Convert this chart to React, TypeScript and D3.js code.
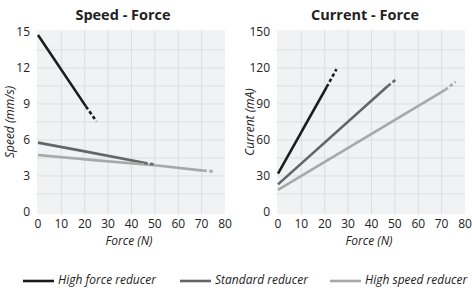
import * as d3 from "d3";

const forceTicks = [0, 10, 20, 30, 40, 50, 60, 70, 80];
const speedTicks = [0, 3, 6, 9, 12, 15];
const currentTicks = [0, 30, 60, 90, 120, 150];

const seriesNames = ["High force reducer", "Standard reducer", "High speed reducer"];
const seriesColors = ["#1c1c1c", "#656565", "#a8a8a8"];

// speed (mm/s) vs force (N): solid part, then dashed tail
const speedSolid: [number, number][][] = [
  [[0, 14.75], [20.5, 8.8]],
  [[0, 5.78], [20, 5.05], [45.4, 4.1]],
  [[0, 4.75], [25, 4.3], [50, 3.9], [70.7, 3.45]],
];
const speedTail: [number, number][][] = [
  [[20.5, 8.8], [25, 7.55]],
  [[45.4, 4.1], [50, 3.95]],
  [[70.7, 3.45], [75, 3.38]],
];

// current (mA) vs force (N)
const currentSolid: [number, number][][] = [
  [[0, 32], [20.8, 104]],
  [[0, 23], [47, 105]],
  [[0, 18.5], [71.5, 101.7]],
];
const currentTail: [number, number][][] = [
  [[20.8, 104], [25, 119]],
  [[47, 105], [50.5, 110.5]],
  [[71.5, 101.7], [76, 108.5]],
];

const FONT = "'Open Sans', 'Noto Sans', sans-serif";

function Panel({ left, title, titleShift, yLabel, yTicks, solid, tail }: any) {
  const x = d3.scaleLinear().domain([0, 80]).range([left + 1, left + 188]);
  const yMax = yTicks[yTicks.length - 1];
  const y = d3.scaleLinear().domain([0, yMax]).range([212, 32]);
  const step = yTicks[1] - yTicks[0];
  const gridY = d3.range(0, yMax + step / 4, step / 2);
  const line = d3
    .line<[number, number]>()
    .x((d) => x(d[0]))
    .y((d) => y(d[1]));
  const x0 = left;
  const x1 = left + 188;
  return (
    <g>
      <text x={(x0 + x1) / 2 + titleShift} y={20} textAnchor="middle" fontSize={14.5} fontWeight="bold" fill="#222">
        {title}
      </text>
      <rect x={x0} y={30} width={x1 - x0} height={184} fill="#f1f2f4" />
      {forceTicks.slice(1, -1).map((t) => (
        <line key={"v" + t} x1={x(t)} x2={x(t)} y1={30} y2={214} stroke="#dcdde0" strokeWidth={1} />
      ))}
      {gridY.slice(1, -1).map((t) => (
        <line key={"h" + t} x1={x0} x2={x1} y1={y(t)} y2={y(t)} stroke="#dcdde0" strokeWidth={1} />
      ))}
      {yTicks.map((t: number) => (
        <text key={"yl" + t} x={x0 - 7} y={y(t) + 4} textAnchor="end" fontSize={12} fill="#222">
          {t}
        </text>
      ))}
      {forceTicks.map((t) => (
        <text key={"xl" + t} x={x(t)} y={228} textAnchor="middle" fontSize={12} fill="#222">
          {t}
        </text>
      ))}
      <text x={(x0 + x1) / 2 - 2} y={245} textAnchor="middle" fontSize={12} fontStyle="italic" fill="#222">
        Force (N)
      </text>
      <text
        transform={`translate(${x0 - 23},${122}) rotate(-90)`}
        textAnchor="middle"
        fontSize={12}
        fontStyle="italic"
        fill="#222"
      >
        {yLabel}
      </text>
      {solid.map((s: [number, number][], i: number) => (
        <path key={"s" + i} d={line(s) || ""} fill="none" stroke={seriesColors[i]} strokeWidth={2.6} />
      ))}
      {tail.map((s: [number, number][], i: number) => (
        <path
          key={"t" + i}
          d={line(s) || ""}
          fill="none"
          stroke={seriesColors[i]}
          strokeWidth={2.6}
          strokeDasharray="3.5 2.5"
        />
      ))}
    </g>
  );
}

export default function App() {
  const legendX = [23, 180, 330];
  return (
    <svg
      width={472}
      height={292}
      style={{ position: "absolute", left: 0, top: 0, fontFamily: FONT, background: "#fff" }}
    >
      <Panel
        left={37}
        title="Speed - Force"
        titleShift={-8}
        yLabel="Speed (mm/s)"
        yTicks={speedTicks}
        solid={speedSolid}
        tail={speedTail}
      />
      <Panel
        left={277}
        title="Current - Force"
        titleShift={-6}
        yLabel="Current (mA)"
        yTicks={currentTicks}
        solid={currentSolid}
        tail={currentTail}
      />
      {seriesNames.map((n, i) => (
        <g key={n}>
          <line x1={legendX[i]} x2={legendX[i] + 31} y1={281} y2={281} stroke={seriesColors[i]} strokeWidth={2.6} />
          <text x={legendX[i] + 35} y={284} fontSize={12} fontStyle="italic" fill="#222">
            {n}
          </text>
        </g>
      ))}
    </svg>
  );
}
